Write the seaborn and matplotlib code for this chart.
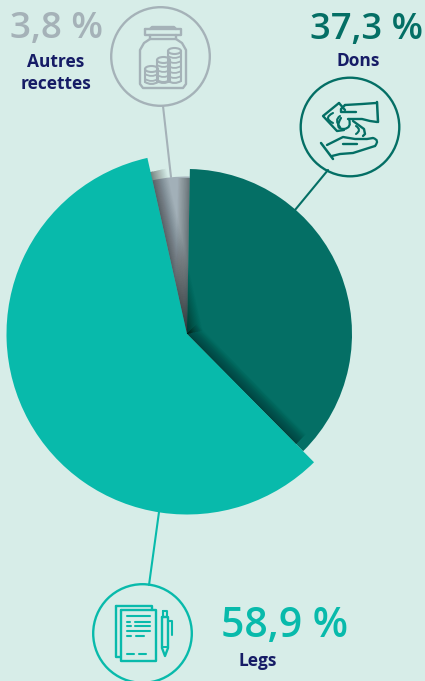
import numpy as np
import matplotlib
matplotlib.use("Agg")
import matplotlib.pyplot as plt
import matplotlib.patches as mpatches
from matplotlib.path import Path
import seaborn as sns

# Funding breakdown
categories = ["Dons", "Legs", "Autres\nrecettes"]
shares = [37.3, 58.9, 3.8]
share_labels = ["37,3 %", "58,9 %", "3,8 %"]

BG = "#D7EDE8"
DARK = "#046F65"
TEAL = "#08BAAB"
GREY = "#A2B0B8"
GREY_TXT = "#A5B2B8"
NAVY = "#161C66"

W, H = 425, 681
CX, CY = 187, 334
radii = [165, 180.5, 157.5]

sns.set_theme(style="white", rc={"figure.facecolor": BG, "axes.facecolor": BG})
plt.rcParams["font.family"] = ["Open Sans", "DejaVu Sans"]

fig = plt.figure(figsize=(W / 100, H / 100), dpi=100)
ax = fig.add_axes([0, 0, 1, 1])
palette = sns.color_palette([DARK, TEAL, GREY])

wedges, _ = ax.pie(shares, colors=palette, startangle=89, counterclock=False,
                   center=(CX, H - CY), radius=1)
ax.set_xlim(0, W)
ax.set_ylim(0, H)
ax.set_aspect("equal")
ax.axis("off")
for wedge, r, z in zip(wedges, radii, [4, 6, 2]):
    wedge.set_radius(r)
    wedge.set_zorder(z)
    wedge.set_linewidth(0)


def px(x, y):
    return x, H - y


def edge_shadow(angle, end, z, strength, widest):
    """Soft dark band along a radial slice edge, built from stacked strokes."""
    a = np.deg2rad(angle)
    xs = [CX, CX + end * np.cos(a)]
    ys = [H - CY, H - CY + end * np.sin(a)]
    for t in np.linspace(1, 0.03, 32):
        ax.plot(xs, ys, color="black", lw=widest * t ** 1.3 * 0.72, alpha=strength,
                solid_capstyle="butt", solid_joinstyle="miter", zorder=z)


# Teal slice borders: lower edge against the dark slice, upper edge against the grey one
teal_lower = wedges[1].theta1
teal_upper = wedges[1].theta2
edge_shadow(teal_lower, 166, 5, 0.016, 32)
edge_shadow(teal_upper, 155, 5, 0.013, 28)
edge_shadow(89, 156, 3, 0.013, 24)


def stroke(points, color, lw=1.7, closed=False, z=8):
    pts = [px(*p) for p in points]
    if closed:
        pts.append(pts[0])
    xs, ys = zip(*pts)
    ax.plot(xs, ys, color=color, lw=lw, solid_capstyle="round",
            solid_joinstyle="round", zorder=z)


def curve(p0, c, p1, color, lw=1.6, z=8):
    path = Path([px(*p0), px(*c), px(*p1)], [Path.MOVETO, Path.CURVE3, Path.CURVE3])
    ax.add_patch(mpatches.PathPatch(path, fc="none", ec=color, lw=lw, zorder=z,
                                    capstyle="round"))


def ring(cx, cy, color, r=49.3, lw=1.7):
    ax.add_patch(mpatches.Circle(px(cx, cy), r, fc="none", ec=color, lw=lw, zorder=8))


# Leader lines and rings
stroke([(163, 106), (171, 177)], "#A5B2B8", lw=1.5, z=1)
stroke([(328, 170), (295, 210)], DARK, lw=1.5, z=1)
stroke([(159, 512), (149, 585)], TEAL, lw=1.5, z=1)
ring(160.5, 56.5, "#A5B2B8")
ring(350, 127, DARK)
ring(142.5, 633.5, TEAL)

# Jar of coins
c = "#A5B2B8"
stroke([(145, 29), (181, 29), (181, 35), (145, 35)], c, closed=True)
stroke([(150, 29), (152, 27), (174, 27), (176, 29)], c)
stroke([(150, 35), (150, 39), (144, 43), (140, 50), (140, 84), (143, 88),
        (183, 88), (186, 84), (186, 50), (182, 43), (176, 39), (176, 35)], c)
stroke([(150, 39), (176, 39)], c)
for x0, x1, top, bottom in [(145, 158, 69, 83), (157, 170, 60, 82), (168, 181, 51, 82)]:
    mid = (x0 + x1) / 2
    ax.add_patch(mpatches.Ellipse(px(mid, top), x1 - x0, 6, fc=BG, ec=c, lw=1.5, zorder=8))
    stroke([(x0, top), (x0, bottom - 1)], c, lw=1.5)
    stroke([(x1, top), (x1, bottom - 1)], c, lw=1.5)
    curve((x0, bottom - 1), (mid, bottom + 3), (x1, bottom - 1), c, lw=1.5)
    for y in np.arange(top + 5, bottom - 1, 5):
        curve((x0, y), (mid, y + 4), (x1, y), c, lw=1.3)

# Giving hands
c = DARK
stroke([(377, 102), (378, 122)], c, lw=1.8)
stroke([(345, 105), (362, 104), (376, 103)], c)
stroke([(345, 105), (341, 109), (341, 112), (356, 112)], c)
stroke([(348, 119), (362, 119), (370, 121), (377, 122)], c)
stroke([(339, 103), (323, 116), (337, 131), (344, 130)], c)
stroke([(339, 103), (345, 110)], c)
curve((333, 113), (323, 118), (333, 123), c, lw=1.5)
curve((340, 116), (334, 120), (340, 127), c, lw=1.5)
curve((341, 118), (334, 129), (344, 129), c)
curve((344, 129), (352, 128), (349, 119), c)
stroke([(353, 121), (364, 129), (365, 134), (363, 136)], c)
curve((356, 126), (362, 130), (356, 134), c, lw=1.5)
stroke([(321, 143), (333, 159)], c, lw=1.8)
stroke([(327, 145), (343, 137), (355, 139), (367, 139), (373, 138)], c)
curve((373, 138), (380, 140), (375, 146), c)
stroke([(375, 146), (353, 153), (340, 154), (332, 156)], c)
stroke([(343, 144), (357, 144)], c)

# Document and pen
c = TEAL
stroke([(116, 606), (142, 606), (152, 606), (152, 610)], c)
stroke([(116, 606), (116, 657), (120, 657)], c)
stroke([(121, 610), (156, 610), (156, 661), (121, 661)], c, closed=True)
for y, x0, x1 in [(616, 127, 150), (621.5, 127, 130), (621.5, 135, 150), (626, 127, 131), (626, 135, 150),
                  (631, 127, 150), (636, 127, 131), (636, 136, 144), (654, 127, 134), (654, 139, 146)]:
    stroke([(x0, y), (x1, y)], c, lw=1.5)
stroke([(162, 617), (168, 617), (168, 648), (165, 656), (162, 648)], c, closed=True)
stroke([(163, 611), (167, 611), (167, 617), (163, 617)], c, closed=True, lw=1.5)
stroke([(162, 647), (168, 647)], c, lw=1.4)
stroke([(168, 621), (172, 621), (172, 635)], c, lw=1.5)

# Percentages and captions
pct_style = dict(ha="center", va="baseline", family="Open Sans", fontweight="semibold", zorder=9)
ax.text(*px(367, 39), share_labels[0], color=DARK, fontsize=26.2, **pct_style)
ax.text(*px(285, 637), share_labels[1], color=TEAL, fontsize=29.5, **pct_style)
ax.text(*px(56.5, 38), share_labels[2], color=GREY_TXT, fontsize=26.5, **pct_style)

cap_style = dict(ha="center", va="baseline", family="Open Sans", fontweight="bold",
                 color=NAVY, fontsize=12.5, zorder=9)
ax.text(*px(358, 66), categories[0], **cap_style)
ax.text(*px(257.5, 666), categories[1], **cap_style)
first, second = categories[2].split("\n")
ax.text(*px(56, 67), first, **cap_style)
ax.text(*px(56, 89), second, **cap_style)

fig.savefig("out.png", dpi=100, facecolor=BG)
